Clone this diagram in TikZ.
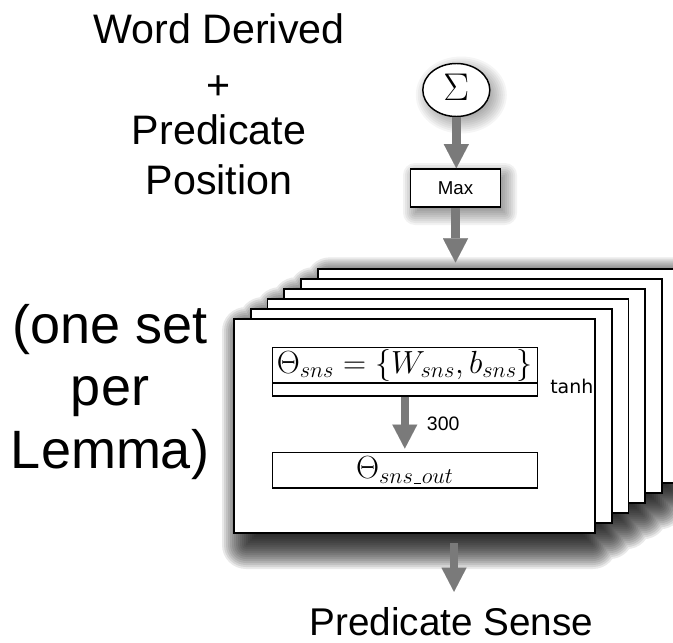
\RequirePackage{fix-cm}
\documentclass[tikz,border=0pt]{standalone}
\usepackage[no-math]{fontspec}
\newfontfamily\sansf{Liberation Sans}
\newfontfamily\tanhf{DejaVu Sans}
\usetikzlibrary{arrows.meta,shapes.geometric,calc}
\definecolor{flowgray}{RGB}{122,122,122}
% short underscore used inside subscripts
\newcommand\subbar{\kern0.6pt\rule[-0.4pt]{5.6pt}{0.7pt}\kern0.6pt}

\begin{document}
\begin{tikzpicture}[x=0.75pt, y=-0.75pt,
  flow/.style={draw=flowgray, line width=6.4pt,
    -{Triangle[width=18.75pt,length=18pt,line width=0.01pt]}},
  card/.style={draw=black, fill=white, line width=1.3pt,
    minimum width=270.75pt, minimum height=160.5pt, inner sep=0pt},
  box/.style={draw=black, fill=white, line width=1.2pt,
    minimum width=198.75pt, inner sep=0pt},
  mathbig/.style={font=\fontsize{24}{28}\selectfont},
  opbox/.style={draw=black, fill=white, line width=1.2pt,
    minimum width=67.5pt, minimum height=28.5pt, inner sep=0pt,
    font=\sansf\fontsize{14}{16}\selectfont},
  sumnode/.style={ellipse, draw=black, fill=white, line width=1.1pt,
    minimum width=50.25pt, minimum height=39.75pt, inner sep=0pt,
    font=\fontsize{29}{32}\selectfont},
  caption/.style={font=\sansf\fontsize{30.9}{37.5}\selectfont, align=center, inner sep=0pt},
  sidenote/.style={font=\sansf\fontsize{40.5}{46.9}\selectfont, align=center, inner sep=0pt},
  outlabel/.style={font=\sansf\fontsize{29}{34}\selectfont, inner sep=0pt},
  small/.style={font=\sansf\fontsize{14.6}{17}\selectfont, inner sep=0pt},
  actlabel/.style={font=\tanhf\fontsize{14.2}{17}\selectfont, inner sep=0pt}
]
\useasboundingbox (0,0) rectangle (673,642);
\clip (0,0) rectangle (673,642);
\fill[white] (0,0) rectangle (673,642);

% soft shadow of the sum node
\foreach \e in {-4,-2,...,12}{
  \fill[black, opacity=0.04] (461.3,95) ellipse [x radius=33.5+\e, y radius=26.5+\e];
}
% soft shadow of the max box
\foreach \e [evaluate=\e as \rc using {max(\e,0.01)*0.75}] in {-4,-2,...,12}{
  \fill[black, opacity=0.05, rounded corners=\rc pt]
    (415-\e,175-\e) rectangle (505+\e,213+\e);
}
% blurred shadow of the whole stack of parameter sets
\foreach \e [evaluate=\e as \rc using {max(\e,0.01)*0.75}] in {-16,-14,...,24}{
  \fill[black, opacity=0.085, rounded corners=\rc pt]
    \foreach \k in {0,...,5}{
      (246+16.73*\k-\e, 331-9.93*\k-\e) rectangle (593+16.73*\k+\e, 545-9.93*\k+\e)
    };
}

% stack of parameter sets, back to front
\foreach \k in {5,4,...,0}{
  \node[card] (card\k) at (414.5+16.73*\k, 426-9.93*\k) {};
}

% layers inside the front set
\node[box, mathbig, minimum height=26.55pt] (sns) at (404.8,365) {$\Theta_{sns} = \{W_{sns}, b_{sns}\}$};
\node[box, minimum height=9.75pt] (snsb) at (404.8,389.2) {};
\node[box, mathbig, minimum height=26.55pt] (out) at (404.8,470) {$\Theta_{sns\subbar out}$};
\node[actlabel, anchor=base west] (tanh) at (550,393.3) {tanh};
\node[small, anchor=base west] (dim) at (426.7,430) {300};

% pooling on top
\node[sumnode] (sum) at (456.3,90) {\raisebox{3.5pt}{$\Sigma$}};
\node[opbox] (max) at (455.5,188) {Max};

% texts
\node[caption, anchor=north] (inputs) at (219,13.6)
  {Word Derived\\[4.1pt]+\\[-3.4pt]Predicate\\Position};
\node[sidenote, anchor=north] (lemma) at (110,303.7) {(one set\\per\\Lemma)};
\node[outlabel, anchor=base] (sense) at (451.5,635) {Predicate Sense};

% connectors
\draw[flow] (sum.south) -- (sum.south |- max.north);
\draw[flow] (max.south) -- ($(max.south |- card5.north)+(0,-6)$);
\draw[flow] (snsb.south) -- ($(out.north)+(0,-3)$);
\draw[flow] ($(sense.north |- card0.south)+(2.5,9)$) -- ($(sense.north)+(2.5,-15)$);
\end{tikzpicture}
\end{document}
